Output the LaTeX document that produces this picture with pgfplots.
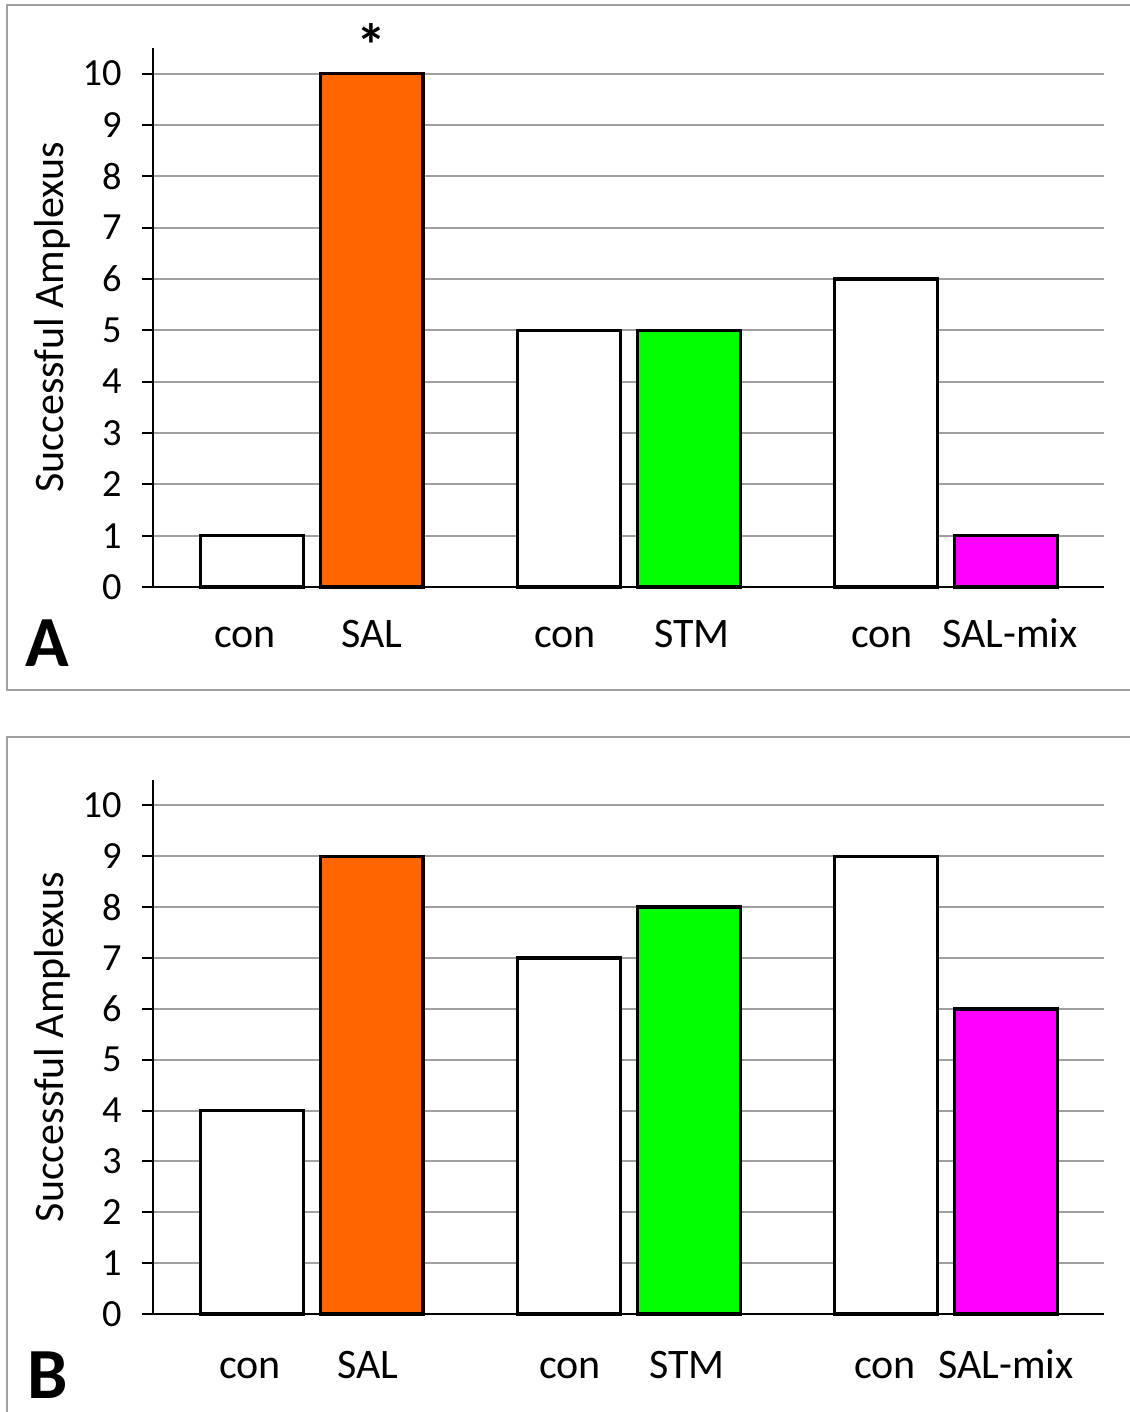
\documentclass[border=0pt]{standalone}
\usepackage{pgfplots}
\pgfplotsset{compat=1.18}
\usepackage{fontspec}
\setmainfont{Carlito}
\definecolor{salorange}{HTML}{FF6600}
\definecolor{stmgreen}{HTML}{00FF00}
\definecolor{mixmag}{HTML}{FF00FF}
\definecolor{gridgray}{HTML}{A0A0A0}
\definecolor{framegray}{HTML}{A0A0A0}
\pgfplotsset{
  panel/.style={
    scale only axis, width=237.75pt,
    xmin=153, xmax=1104, ymin=0, ymax=10.5,
    axis x line*=bottom, axis y line*=left,
    ytick={0,1,...,10},
    ymajorgrids, grid style={color=gridgray, line width=0.5pt},
    tick align=outside, major tick length=2.75pt,
    ytick style={black, line width=0.5pt},
    xtick style={draw=none},
    axis line style={black, line width=0.5pt},
    tick label style={font=\fontsize{9.6}{11}\selectfont},
    /pgf/number format/assume math mode=true,
    yticklabel style={anchor=east, xshift=-1.6pt},
    xticklabel style={font=\fontsize{10.5}{12}\selectfont, anchor=base},
    ylabel={Successful Amplexus},
    ylabel style={font=\fontsize{10.5}{12}\selectfont, at={(axis description cs:-0.0936,0.5)}, anchor=base},
    clip=false,
  },
  barsty/.style={ybar, bar shift=0pt, bar width=25.65pt, draw=black, line width=0.85pt},
}
\begin{document}
\begin{tikzpicture}
\path[use as bounding box] (0,0) rectangle (282.25pt,353pt);
\draw[framegray, line width=0.7pt] (284pt,351.75pt) -- (1.75pt,351.75pt) -- (1.75pt,180.5pt) -- (284pt,180.5pt);
\draw[framegray, line width=0.7pt] (284pt,168.75pt) -- (1.75pt,168.75pt) -- (1.75pt,-2pt);

\begin{axis}[panel, at={(38.25pt,206.25pt)}, anchor=south west, height=134.75pt,
  xtick={245,372,565,692,882,1010},
  xticklabels={con,SAL,con,STM,con,SAL-mix},
  xticklabel style={yshift=-12.5pt}]
  \addplot[barsty, fill=white] coordinates {(252,1)};
  \addplot[barsty, fill=salorange] coordinates {(371.5,10)};
  \addplot[barsty, fill=white] coordinates {(569,5)};
  \addplot[barsty, fill=stmgreen] coordinates {(689,5)};
  \addplot[barsty, fill=white] coordinates {(886,6)};
  \addplot[barsty, fill=mixmag] coordinates {(1006,1)};
  \node[anchor=base, font=\fontsize{15}{16}\selectfont\bfseries] at (axis cs:371.5,10.14) {*};
\end{axis}

\begin{axis}[panel, at={(38.25pt,24.5pt)}, anchor=south west, height=133.5pt,
  xtick={250,368,570,687,885,1006},
  xticklabels={con,SAL,con,STM,con,SAL-mix},
  xticklabel style={yshift=-13.25pt}]
  \addplot[barsty, fill=white] coordinates {(252,4)};
  \addplot[barsty, fill=salorange] coordinates {(371.5,9)};
  \addplot[barsty, fill=white] coordinates {(569,7)};
  \addplot[barsty, fill=stmgreen] coordinates {(689,8)};
  \addplot[barsty, fill=white] coordinates {(886,9)};
  \addplot[barsty, fill=mixmag] coordinates {(1006,6)};
\end{axis}

\node[anchor=base west, inner sep=0pt, font=\fontsize{18}{20}\selectfont\bfseries] at (6.25pt,186.25pt) {A};
\node[anchor=base west, inner sep=0pt, font=\fontsize{18}{20}\selectfont\bfseries] at (6.75pt,3.25pt) {B};
\end{tikzpicture}
\end{document}
